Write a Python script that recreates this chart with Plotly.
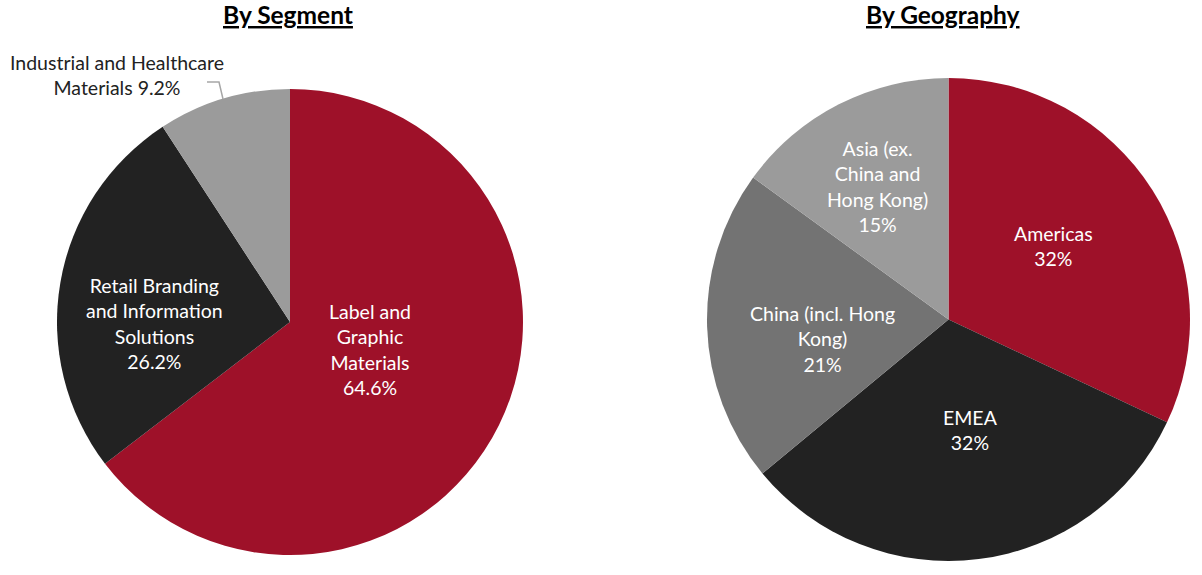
import plotly.graph_objects as go

# Data
seg_labels = ["Label and<br>Graphic<br>Materials", "Retail Branding<br>and Information<br>Solutions", "Industrial and Healthcare<br>Materials"]
seg_values = [64.6, 26.2, 9.2]
seg_colors = ["#9E1129", "#222222", "#9B9B9B"]

geo_labels = ["Americas", "EMEA", "China (incl. Hong<br>Kong)", "Asia (ex.<br>China and<br>Hong Kong)"]
geo_values = [32, 32, 21, 15]
geo_colors = ["#9E1129", "#222222", "#737373", "#9B9B9B"]

W, H = 1202, 575
OFF = 0  # page body margin removed below
FONT = "Lato, 'Open Sans', sans-serif"
FS = 19.5

def px(x):
    return (x - OFF) / W

def py(y):
    return 1 - (y - OFF) / H

def dom(cx, cy, r):
    return dict(x=[px(cx - r), px(cx + r)], y=[py(cy + r), py(cy - r)])

fig = go.Figure()
fig.add_trace(go.Pie(
    labels=seg_labels, values=seg_values, sort=False, direction="clockwise", rotation=0,
    marker=dict(colors=seg_colors, line=dict(width=0)),
    textinfo="none",
    domain=dom(290, 322, 233), showlegend=False, hoverinfo="label+value",
))
fig.add_trace(go.Pie(
    labels=geo_labels, values=geo_values, sort=False, direction="clockwise", rotation=0,
    marker=dict(colors=geo_colors, line=dict(width=0)),
    textinfo="none",
    domain=dom(948.5, 319.5, 241.5), showlegend=False, hoverinfo="label+value",
))

# slice labels (page coordinates of label centres)
seg_pos = [(370, 349), (154, 323)]
for (x, y), lab, v in zip(seg_pos, seg_labels[:2], seg_values[:2]):
    fig.add_annotation(x=px(x), y=py(y), xref="paper", yref="paper",
                       text="%s<br>%.1f%%" % (lab, v), showarrow=False, align="center",
                       font=dict(family=FONT, size=FS, color="white"),
                       xanchor="center", yanchor="middle")
geo_pos = [(1053, 246), (971, 430), (823, 339), (877, 186)]
for (x, y), lab, v in zip(geo_pos, geo_labels, geo_values):
    fig.add_annotation(x=px(x), y=py(y), xref="paper", yref="paper",
                       text="%s<br>%d%%" % (lab, v), showarrow=False, align="center",
                       font=dict(family=FONT, size=FS, color="white"),
                       xanchor="center", yanchor="middle")

fig.add_annotation(x=px(288), y=py(15), xref="paper", yref="paper",
                   text="<b><u>By Segment</u></b>", showarrow=False,
                   font=dict(family=FONT, size=24.5, color="black"), xanchor="center", yanchor="middle")
fig.add_annotation(x=px(943), y=py(15), xref="paper", yref="paper",
                   text="<b><u>By Geography</u></b>", showarrow=False,
                   font=dict(family=FONT, size=24.5, color="black"), xanchor="center", yanchor="middle")
fig.add_annotation(x=px(117), y=py(75), xref="paper", yref="paper",
                   text="%s %.1f%%" % (seg_labels[2], seg_values[2]), showarrow=False,
                   align="center", font=dict(family=FONT, size=FS, color="#222222"),
                   xanchor="center", yanchor="middle")
fig.add_shape(type="path", xref="paper", yref="paper",
              path="M %f %f L %f %f L %f %f" % (px(207), py(82), px(219), py(82), px(223), py(99)),
              line=dict(color="#A6A6A6", width=1.5))

fig.update_layout(width=W, height=H, margin=dict(l=0, r=0, t=0, b=0),
                  paper_bgcolor="white", plot_bgcolor="white")
fig.write_html("out.html", config={"displayModeBar": False},
               post_script="document.body.style.margin='0';")
